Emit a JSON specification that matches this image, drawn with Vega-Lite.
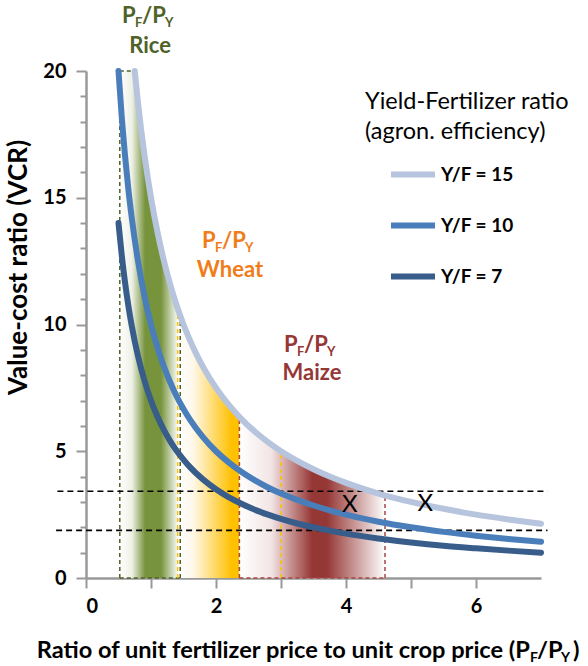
{
  "$schema": "https://vega.github.io/schema/vega-lite/v6.json",
  "width": 455,
  "height": 507,
  "autosize": {"type": "none"},
  "padding": {"left": 86, "top": 71, "right": 47, "bottom": 88},
  "background": "white",
  "config": {
    "font": "Lato",
    "view": {"stroke": null},
    "axis": {
      "domainColor": "#999999", "domainWidth": 2.5, "tickColor": "#999999", "tickWidth": 2,
      "grid": false, "labelFont": "Lato", "labelFontSize": 20, "labelFontWeight": "bold", "labelColor": "black", "labelOverlap": false,
      "titleFont": "Lato", "titleFontSize": 26, "titleFontWeight": "bold", "titleColor": "black"
    }
  },
  "resolve": {"axis": {"y": "independent"}},
  "datasets": {
    "curves": [
      {"ratio": "Y/F = 15", "pf": 0.75, "vcr": 20}, {"ratio": "Y/F = 15", "pf": 0.8, "vcr": 18.75}, {"ratio": "Y/F = 15", "pf": 0.85, "vcr": 17.65}, {"ratio": "Y/F = 15", "pf": 0.9, "vcr": 16.67}, {"ratio": "Y/F = 15", "pf": 0.95, "vcr": 15.79}, {"ratio": "Y/F = 15", "pf": 1.0, "vcr": 15}, {"ratio": "Y/F = 15", "pf": 1.1, "vcr": 13.64}, {"ratio": "Y/F = 15", "pf": 1.2, "vcr": 12.5}, {"ratio": "Y/F = 15", "pf": 1.3, "vcr": 11.54}, {"ratio": "Y/F = 15", "pf": 1.4, "vcr": 10.71}, {"ratio": "Y/F = 15", "pf": 1.5, "vcr": 10}, {"ratio": "Y/F = 15", "pf": 1.6, "vcr": 9.375}, {"ratio": "Y/F = 15", "pf": 1.7, "vcr": 8.82}, {"ratio": "Y/F = 15", "pf": 1.8, "vcr": 8.33}, {"ratio": "Y/F = 15", "pf": 2.0, "vcr": 7.5}, {"ratio": "Y/F = 15", "pf": 2.2, "vcr": 6.82}, {"ratio": "Y/F = 15", "pf": 2.4, "vcr": 6.25}, {"ratio": "Y/F = 15", "pf": 2.6, "vcr": 5.77}, {"ratio": "Y/F = 15", "pf": 2.8, "vcr": 5.36}, {"ratio": "Y/F = 15", "pf": 3.0, "vcr": 5}, {"ratio": "Y/F = 15", "pf": 3.25, "vcr": 4.62}, {"ratio": "Y/F = 15", "pf": 3.5, "vcr": 4.29}, {"ratio": "Y/F = 15", "pf": 3.75, "vcr": 4}, {"ratio": "Y/F = 15", "pf": 4.0, "vcr": 3.75}, {"ratio": "Y/F = 15", "pf": 4.5, "vcr": 3.33}, {"ratio": "Y/F = 15", "pf": 5.0, "vcr": 3}, {"ratio": "Y/F = 15", "pf": 5.5, "vcr": 2.73}, {"ratio": "Y/F = 15", "pf": 6.0, "vcr": 2.5}, {"ratio": "Y/F = 15", "pf": 6.5, "vcr": 2.31}, {"ratio": "Y/F = 15", "pf": 7.0, "vcr": 2.14},
      {"ratio": "Y/F = 10", "pf": 0.5, "vcr": 20}, {"ratio": "Y/F = 10", "pf": 0.55, "vcr": 18.18}, {"ratio": "Y/F = 10", "pf": 0.6, "vcr": 16.67}, {"ratio": "Y/F = 10", "pf": 0.65, "vcr": 15.38}, {"ratio": "Y/F = 10", "pf": 0.7, "vcr": 14.29}, {"ratio": "Y/F = 10", "pf": 0.8, "vcr": 12.5}, {"ratio": "Y/F = 10", "pf": 0.9, "vcr": 11.11}, {"ratio": "Y/F = 10", "pf": 1.0, "vcr": 10}, {"ratio": "Y/F = 10", "pf": 1.1, "vcr": 9.09}, {"ratio": "Y/F = 10", "pf": 1.2, "vcr": 8.33}, {"ratio": "Y/F = 10", "pf": 1.3, "vcr": 7.69}, {"ratio": "Y/F = 10", "pf": 1.4, "vcr": 7.14}, {"ratio": "Y/F = 10", "pf": 1.5, "vcr": 6.67}, {"ratio": "Y/F = 10", "pf": 1.6, "vcr": 6.25}, {"ratio": "Y/F = 10", "pf": 1.8, "vcr": 5.56}, {"ratio": "Y/F = 10", "pf": 2.0, "vcr": 5}, {"ratio": "Y/F = 10", "pf": 2.2, "vcr": 4.55}, {"ratio": "Y/F = 10", "pf": 2.4, "vcr": 4.17}, {"ratio": "Y/F = 10", "pf": 2.6, "vcr": 3.85}, {"ratio": "Y/F = 10", "pf": 2.8, "vcr": 3.57}, {"ratio": "Y/F = 10", "pf": 3.0, "vcr": 3.33}, {"ratio": "Y/F = 10", "pf": 3.25, "vcr": 3.08}, {"ratio": "Y/F = 10", "pf": 3.5, "vcr": 2.86}, {"ratio": "Y/F = 10", "pf": 3.75, "vcr": 2.67}, {"ratio": "Y/F = 10", "pf": 4.0, "vcr": 2.5}, {"ratio": "Y/F = 10", "pf": 4.5, "vcr": 2.22}, {"ratio": "Y/F = 10", "pf": 5.0, "vcr": 2}, {"ratio": "Y/F = 10", "pf": 5.5, "vcr": 1.82}, {"ratio": "Y/F = 10", "pf": 6.0, "vcr": 1.67}, {"ratio": "Y/F = 10", "pf": 6.5, "vcr": 1.54}, {"ratio": "Y/F = 10", "pf": 7.0, "vcr": 1.43},
      {"ratio": "Y/F = 7", "pf": 0.5, "vcr": 14}, {"ratio": "Y/F = 7", "pf": 0.55, "vcr": 12.73}, {"ratio": "Y/F = 7", "pf": 0.6, "vcr": 11.67}, {"ratio": "Y/F = 7", "pf": 0.65, "vcr": 10.77}, {"ratio": "Y/F = 7", "pf": 0.7, "vcr": 10}, {"ratio": "Y/F = 7", "pf": 0.8, "vcr": 8.75}, {"ratio": "Y/F = 7", "pf": 0.9, "vcr": 7.78}, {"ratio": "Y/F = 7", "pf": 1.0, "vcr": 7}, {"ratio": "Y/F = 7", "pf": 1.1, "vcr": 6.36}, {"ratio": "Y/F = 7", "pf": 1.2, "vcr": 5.83}, {"ratio": "Y/F = 7", "pf": 1.3, "vcr": 5.38}, {"ratio": "Y/F = 7", "pf": 1.4, "vcr": 5}, {"ratio": "Y/F = 7", "pf": 1.5, "vcr": 4.67}, {"ratio": "Y/F = 7", "pf": 1.6, "vcr": 4.375}, {"ratio": "Y/F = 7", "pf": 1.8, "vcr": 3.89}, {"ratio": "Y/F = 7", "pf": 2.0, "vcr": 3.5}, {"ratio": "Y/F = 7", "pf": 2.2, "vcr": 3.18}, {"ratio": "Y/F = 7", "pf": 2.4, "vcr": 2.92}, {"ratio": "Y/F = 7", "pf": 2.6, "vcr": 2.69}, {"ratio": "Y/F = 7", "pf": 2.8, "vcr": 2.5}, {"ratio": "Y/F = 7", "pf": 3.0, "vcr": 2.33}, {"ratio": "Y/F = 7", "pf": 3.25, "vcr": 2.15}, {"ratio": "Y/F = 7", "pf": 3.5, "vcr": 2}, {"ratio": "Y/F = 7", "pf": 3.75, "vcr": 1.87}, {"ratio": "Y/F = 7", "pf": 4.0, "vcr": 1.75}, {"ratio": "Y/F = 7", "pf": 4.5, "vcr": 1.56}, {"ratio": "Y/F = 7", "pf": 5.0, "vcr": 1.4}, {"ratio": "Y/F = 7", "pf": 5.5, "vcr": 1.27}, {"ratio": "Y/F = 7", "pf": 6.0, "vcr": 1.17}, {"ratio": "Y/F = 7", "pf": 6.5, "vcr": 1.08}, {"ratio": "Y/F = 7", "pf": 7.0, "vcr": 1.0}
    ],
    "bands": [
      {"band": "Rice", "pf": 0.52, "vcr": 20}, {"band": "Rice", "pf": 0.75, "vcr": 20}, {"band": "Rice", "pf": 0.8, "vcr": 18.75}, {"band": "Rice", "pf": 0.85, "vcr": 17.65}, {"band": "Rice", "pf": 0.9, "vcr": 16.67}, {"band": "Rice", "pf": 0.95, "vcr": 15.79}, {"band": "Rice", "pf": 1.0, "vcr": 15}, {"band": "Rice", "pf": 1.1, "vcr": 13.64}, {"band": "Rice", "pf": 1.2, "vcr": 12.5}, {"band": "Rice", "pf": 1.3, "vcr": 11.54}, {"band": "Rice", "pf": 1.4, "vcr": 10.71}, {"band": "Rice", "pf": 1.45, "vcr": 10.34},
      {"band": "Wheat", "pf": 1.41, "vcr": 10.64}, {"band": "Wheat", "pf": 1.5, "vcr": 10}, {"band": "Wheat", "pf": 1.6, "vcr": 9.375}, {"band": "Wheat", "pf": 1.7, "vcr": 8.82}, {"band": "Wheat", "pf": 1.8, "vcr": 8.33}, {"band": "Wheat", "pf": 1.9, "vcr": 7.89}, {"band": "Wheat", "pf": 2.0, "vcr": 7.5}, {"band": "Wheat", "pf": 2.1, "vcr": 7.14}, {"band": "Wheat", "pf": 2.2, "vcr": 6.82}, {"band": "Wheat", "pf": 2.3, "vcr": 6.52}, {"band": "Wheat", "pf": 2.36, "vcr": 6.36},
      {"band": "Maize", "pf": 2.36, "vcr": 6.36}, {"band": "Maize", "pf": 2.5, "vcr": 6}, {"band": "Maize", "pf": 2.6, "vcr": 5.77}, {"band": "Maize", "pf": 2.8, "vcr": 5.36}, {"band": "Maize", "pf": 3.0, "vcr": 5}, {"band": "Maize", "pf": 3.25, "vcr": 4.62}, {"band": "Maize", "pf": 3.5, "vcr": 4.29}, {"band": "Maize", "pf": 3.75, "vcr": 4}, {"band": "Maize", "pf": 4.0, "vcr": 3.75}, {"band": "Maize", "pf": 4.25, "vcr": 3.53}, {"band": "Maize", "pf": 4.6, "vcr": 3.26}
    ],
    "guides": [
      {"group": "green", "x1": 0.52, "x2": 0.52, "y1": 0, "y2": 20},
      {"group": "green", "x1": 1.45, "x2": 1.45, "y1": 0, "y2": 10.34},
      {"group": "green", "x1": 0.52, "x2": 1.45, "y1": 0, "y2": 0},
      {"group": "green", "x1": 0.52, "x2": 0.75, "y1": 20, "y2": 20},
      {"group": "orange", "x1": 1.41, "x2": 1.41, "y1": 0, "y2": 10.64},
      {"group": "orange", "x1": 3.0, "x2": 3.0, "y1": 0, "y2": 5},
      {"group": "red", "x1": 2.36, "x2": 2.36, "y1": 0, "y2": 6.36},
      {"group": "red", "x1": 4.6, "x2": 4.6, "y1": 0, "y2": 3.26},
      {"group": "red", "x1": 2.36, "x2": 4.6, "y1": 0, "y2": 0},
      {"group": "black", "x1": -0.44, "x2": 7.1, "y1": 3.42, "y2": 3.42},
      {"group": "black", "x1": -0.46, "x2": 7.1, "y1": 1.88, "y2": 1.88}
    ],
    "crops": [
      {"crop": "Rice", "px": 0.985, "y1": 21.89, "y2": 20.71},
      {"crop": "Wheat", "px": 2.215, "y1": 13.02, "y2": 11.87},
      {"crop": "Maize", "px": 3.477, "y1": 8.92, "y2": 7.81}
    ],
    "marks": [
      {"label": "X", "px": 4.06, "vcr": 2.88},
      {"label": "X", "px": 5.22, "vcr": 2.92}
    ],
    "anchor": [{"px": 6.83, "vcr": -3.16}]
  },
  "layer": [
    {
      "data": {"name": "bands"},
      "transform": [{"filter": "datum.band == 'Rice'"}],
      "mark": {"type": "area", "interpolate": "monotone", "fill": {"gradient": "linear", "x1": 0, "x2": 1, "y1": 0, "y2": 0, "stops": [{"offset": 0, "color": "#ffffff"}, {"offset": 0.2, "color": "#eef1e6"}, {"offset": 0.42, "color": "#77933c"}, {"offset": 0.68, "color": "#77933c"}, {"offset": 0.97, "color": "#ffffff"}]}},
      "encoding": {
        "x": {"field": "pf", "type": "quantitative", "scale": {"domain": [0, 7], "nice": false}, "title": null,
          "axis": {"values": [0, 1, 2, 3, 4, 5, 6], "format": "d", "labelExpr": "datum.value % 2 == 0 ? datum.label : ''", "labelOverlap": false, "tickSize": 10, "labelPadding": 8}},
        "y": {"field": "vcr", "type": "quantitative", "scale": {"domain": [0, 20], "nice": false}, "title": "Value-cost ratio (VCR)",
          "axis": {"orient": "left", "values": [0, 5, 10, 15, 20], "format": "d", "labelOverlap": false, "tickSize": 10, "labelPadding": 10,
            "titleX": -68, "titleY": 196, "titleAngle": -90, "titleAlign": "center", "titleBaseline": "middle"}}
      }
    },
    {
      "data": {"name": "bands"},
      "transform": [{"filter": "datum.band == 'Wheat'"}],
      "mark": {"type": "area", "interpolate": "monotone", "fill": {"gradient": "linear", "x1": 0, "x2": 1, "y1": 0, "y2": 0, "stops": [{"offset": 0, "color": "#ffffff"}, {"offset": 0.25, "color": "#fff8ea"}, {"offset": 0.88, "color": "#ffc000"}, {"offset": 1, "color": "#ffc000"}]}},
      "encoding": {
        "x": {"field": "pf", "type": "quantitative", "title": null},
        "y": {"field": "vcr", "type": "quantitative", "axis": null}
      }
    },
    {
      "data": {"name": "bands"},
      "transform": [{"filter": "datum.band == 'Maize'"}],
      "mark": {"type": "area", "interpolate": "monotone", "fill": {"gradient": "linear", "x1": 0, "x2": 1, "y1": 0, "y2": 0, "stops": [{"offset": 0, "color": "#ffffff"}, {"offset": 0.22, "color": "#f2e4e4"}, {"offset": 0.5, "color": "#953735"}, {"offset": 0.6, "color": "#953735"}, {"offset": 1, "color": "#ffffff"}]}},
      "encoding": {
        "x": {"field": "pf", "type": "quantitative", "title": null},
        "y": {"field": "vcr", "type": "quantitative", "axis": null}
      }
    },
    {
      "data": {"name": "guides"},
      "transform": [{"filter": "datum.group == 'green'"}],
      "mark": {"type": "rule", "color": "#4f6228", "strokeDash": [4, 3], "strokeWidth": 1.5},
      "encoding": {
        "x": {"field": "x1", "type": "quantitative", "title": null}, "x2": {"field": "x2"},
        "y": {"field": "y1", "type": "quantitative", "axis": null}, "y2": {"field": "y2"}
      }
    },
    {
      "data": {"name": "guides"},
      "transform": [{"filter": "datum.group == 'orange'"}],
      "mark": {"type": "rule", "color": "#ffc000", "strokeDash": [4, 3], "strokeWidth": 1.5},
      "encoding": {
        "x": {"field": "x1", "type": "quantitative", "title": null}, "x2": {"field": "x2"},
        "y": {"field": "y1", "type": "quantitative", "axis": null}, "y2": {"field": "y2"}
      }
    },
    {
      "data": {"name": "guides"},
      "transform": [{"filter": "datum.group == 'red'"}],
      "mark": {"type": "rule", "color": "#a84543", "strokeDash": [4, 3], "strokeWidth": 1.5},
      "encoding": {
        "x": {"field": "x1", "type": "quantitative", "title": null}, "x2": {"field": "x2"},
        "y": {"field": "y1", "type": "quantitative", "axis": null}, "y2": {"field": "y2"}
      }
    },
    {
      "data": {"name": "guides"},
      "transform": [{"filter": "datum.group == 'black'"}],
      "mark": {"type": "rule", "color": "black", "strokeDash": [6, 4], "strokeWidth": 1.6},
      "encoding": {
        "x": {"field": "x1", "type": "quantitative", "title": null}, "x2": {"field": "x2"},
        "y": {"field": "y1", "type": "quantitative", "title": null,
          "axis": {"orient": "left", "values": [1, 2, 3, 4, 6, 7, 8, 9, 11, 12, 13, 14, 16, 17, 18, 19], "labels": false, "domain": false, "tickSize": 6, "title": null}},
        "y2": {"field": "y2"}
      }
    },
    {
      "data": {"name": "curves"},
      "mark": {"type": "line", "interpolate": "monotone", "strokeWidth": 6, "strokeCap": "round"},
      "encoding": {
        "x": {"field": "pf", "type": "quantitative", "title": null},
        "y": {"field": "vcr", "type": "quantitative", "axis": null},
        "color": {"field": "ratio", "type": "nominal",
          "scale": {"domain": ["Y/F = 15", "Y/F = 10", "Y/F = 7"], "range": ["#b7c4dd", "#4a7ebb", "#385d8a"]},
          "legend": {"orient": "none", "legendX": 279, "legendY": 19, "title": ["Yield-Fertilizer ratio", "(agron. efficiency)"],
            "titleFont": "Lato", "titleFontSize": 23.5, "titleFontWeight": "normal", "titleColor": "black", "titleLineHeight": 30, "titleLimit": 400, "titlePadding": 6,
            "labelFont": "Lato", "labelFontSize": 19, "labelFontWeight": "bold", "labelColor": "black", "labelOffset": 3,
            "symbolType": "stroke", "symbolSize": 1936, "symbolStrokeWidth": 6, "symbolOffset": 23, "rowPadding": 14, "padding": 0}}
      }
    },
    {
      "data": {"name": "marks"},
      "mark": {"type": "text", "font": "Lato", "fontSize": 24, "color": "black", "baseline": "middle", "align": "center"},
      "encoding": {
        "x": {"field": "px", "type": "quantitative", "title": null},
        "y": {"field": "vcr", "type": "quantitative", "axis": null},
        "text": {"field": "label"}
      }
    },
    {
      "data": {"name": "crops"},
      "mark": {"type": "text", "font": "Lato", "fontSize": 22, "fontWeight": "bold", "align": "left", "baseline": "alphabetic", "dx": -28},
      "encoding": {
        "x": {"field": "px", "type": "quantitative", "title": null},
        "y": {"field": "y1", "type": "quantitative", "axis": null},
        "text": {"value": "P"},
        "fill": {"field": "crop", "type": "nominal", "scale": {"domain": ["Rice", "Wheat", "Maize"], "range": ["#4f6228", "#ef7d1a", "#953735"]}, "legend": null}
      }
    },
    {
      "data": {"name": "crops"},
      "mark": {"type": "text", "font": "Lato", "fontSize": 13, "fontWeight": "bold", "align": "left", "baseline": "alphabetic", "dx": -15, "dy": 4},
      "encoding": {
        "x": {"field": "px", "type": "quantitative", "title": null},
        "y": {"field": "y1", "type": "quantitative", "axis": null},
        "text": {"value": "F"},
        "fill": {"field": "crop", "type": "nominal", "legend": null}
      }
    },
    {
      "data": {"name": "crops"},
      "mark": {"type": "text", "font": "Lato", "fontSize": 22, "fontWeight": "bold", "align": "left", "baseline": "alphabetic", "dx": -8},
      "encoding": {
        "x": {"field": "px", "type": "quantitative", "title": null},
        "y": {"field": "y1", "type": "quantitative", "axis": null},
        "text": {"value": "/P"},
        "fill": {"field": "crop", "type": "nominal", "legend": null}
      }
    },
    {
      "data": {"name": "crops"},
      "mark": {"type": "text", "font": "Lato", "fontSize": 13, "fontWeight": "bold", "align": "left", "baseline": "alphabetic", "dx": 15, "dy": 4},
      "encoding": {
        "x": {"field": "px", "type": "quantitative", "title": null},
        "y": {"field": "y1", "type": "quantitative", "axis": null},
        "text": {"value": "Y"},
        "fill": {"field": "crop", "type": "nominal", "legend": null}
      }
    },
    {
      "data": {"name": "crops"},
      "mark": {"type": "text", "font": "Lato", "fontSize": 22, "fontWeight": "bold", "align": "center", "baseline": "alphabetic"},
      "encoding": {
        "x": {"field": "px", "type": "quantitative", "title": null},
        "y": {"field": "y2", "type": "quantitative", "axis": null},
        "text": {"field": "crop"},
        "fill": {"field": "crop", "type": "nominal", "legend": null}
      }
    },
    {
      "data": {"name": "anchor"},
      "mark": {"type": "text", "font": "Lato", "fontSize": 23.6, "fontWeight": "bold", "align": "right", "baseline": "alphabetic", "color": "black"},
      "encoding": {
        "x": {"field": "px", "type": "quantitative", "title": null},
        "y": {"field": "vcr", "type": "quantitative", "axis": null},
        "text": {"value": "Ratio of unit fertilizer price to unit crop price (P"}
      }
    },
    {
      "data": {"name": "anchor"},
      "mark": {"type": "text", "font": "Lato", "fontSize": 14, "fontWeight": "bold", "align": "left", "baseline": "alphabetic", "color": "black", "dy": 4},
      "encoding": {
        "x": {"field": "px", "type": "quantitative", "title": null},
        "y": {"field": "vcr", "type": "quantitative", "axis": null},
        "text": {"value": "F"}
      }
    },
    {
      "data": {"name": "anchor"},
      "mark": {"type": "text", "font": "Lato", "fontSize": 23.6, "fontWeight": "bold", "align": "left", "baseline": "alphabetic", "color": "black", "dx": 7},
      "encoding": {
        "x": {"field": "px", "type": "quantitative", "title": null},
        "y": {"field": "vcr", "type": "quantitative", "axis": null},
        "text": {"value": "/P"}
      }
    },
    {
      "data": {"name": "anchor"},
      "mark": {"type": "text", "font": "Lato", "fontSize": 14, "fontWeight": "bold", "align": "left", "baseline": "alphabetic", "color": "black", "dx": 31, "dy": 4},
      "encoding": {
        "x": {"field": "px", "type": "quantitative", "title": null},
        "y": {"field": "vcr", "type": "quantitative", "axis": null},
        "text": {"value": "Y"}
      }
    },
    {
      "data": {"name": "anchor"},
      "mark": {"type": "text", "font": "Lato", "fontSize": 23.6, "fontWeight": "bold", "align": "left", "baseline": "alphabetic", "color": "black", "dx": 43},
      "encoding": {
        "x": {"field": "px", "type": "quantitative", "title": null},
        "y": {"field": "vcr", "type": "quantitative", "axis": null},
        "text": {"value": ")"}
      }
    }
  ]
}
